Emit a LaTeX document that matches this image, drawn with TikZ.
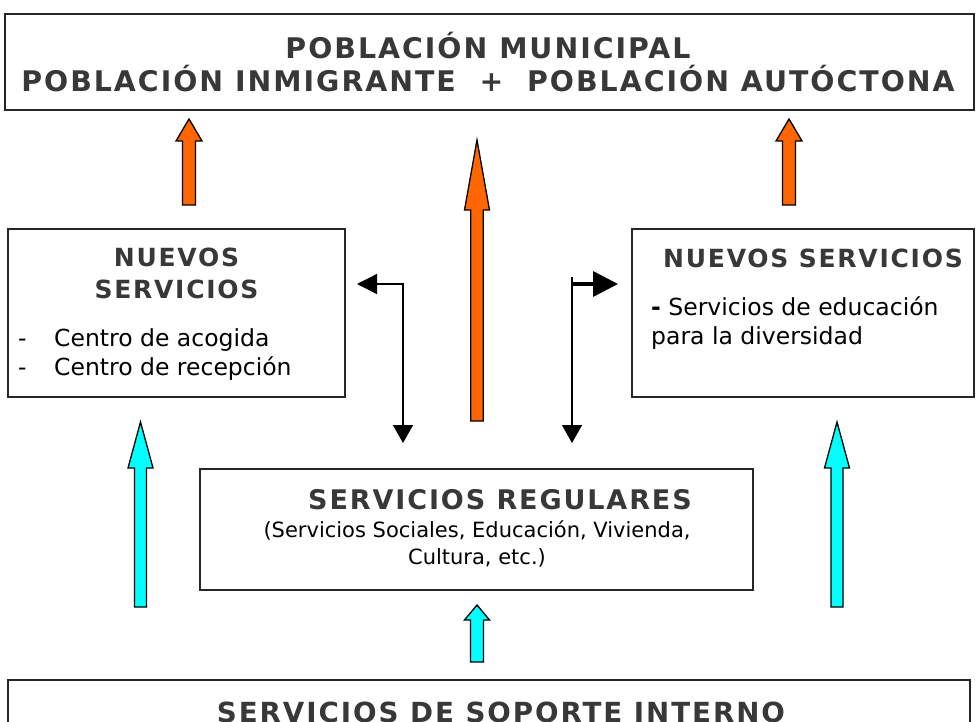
\documentclass[tikz,border=0pt]{standalone}
\usepackage{fontspec}
\setmainfont{DejaVu Sans}
\newfontfamily\headfont[LetterSpace=7]{DejaVu Sans}
\usetikzlibrary{calc, arrows.meta}
\definecolor{arrorange}{HTML}{FF6600}
\definecolor{arrcyan}{HTML}{00FFFF}
\definecolor{headgray}{HTML}{383838}
% block arrow pointing up: colour, tail, tip, half shaft, half head, head length
\newcommand{\blockarrow}[6]{%
  \filldraw[blockline, fill=#1] ($(#2)+(-#4,0)$) -- ($(#3)+(-#4,#6)$) -- ($(#3)+(-#5,#6)$)
    -- (#3) -- ($(#3)+(#5,#6)$) -- ($(#3)+(#4,#6)$) -- ($(#2)+(#4,0)$) -- cycle;}

\begin{document}
\begin{tikzpicture}[x=1pt, y=-1pt,
    box/.style={draw=black!85, line width=1.6pt, inner sep=0pt, outer sep=0pt},
    headtxt/.style={font=\headfont\bfseries\fontsize{25}{32}\selectfont, text=headgray, align=center, inner sep=0pt},
    bodytxt/.style={font=\fontsize{23.5}{29}\selectfont, align=left, inner sep=0pt},
    blockline/.style={draw=black, line width=1.3pt, line join=miter},
    thinarr/.style={line width=1.4pt, -{Triangle[length=18pt, width=20pt]}}]
    \useasboundingbox (0,0) rectangle (979,722);
    \clip (0,0) rectangle (979,722);

    % Municipal population
    \node[box, minimum width=969, minimum height=96] (pob) at (489.5,62) {};
    \node[headtxt, font=\headfont\bfseries\fontsize{28.4}{33}\selectfont] (pobtxt) at (488,62)
        {POBLACIÓN MUNICIPAL\\POBLACIÓN INMIGRANTE \ + \ POBLACIÓN AUTÓCTONA};

    % New services (left and right)
    \node[box, minimum width=337, minimum height=168] (nsA) at (176.5,313) {};
    \node[headtxt] (nsAhead) at (176.5,273) {NUEVOS\\SERVICIOS};
    \node[bodytxt, anchor=west] (nsAbody) at (18,355)
        {\makebox[36pt][l]{-}Centro de acogida\\\makebox[36pt][l]{-}Centro de recepción};

    \node[box, minimum width=342, minimum height=168] (nsB) at (803,313) {};
    \node[headtxt] (nsBhead) at (813,258) {NUEVOS SERVICIOS};
    \node[bodytxt, anchor=west] (nsBbody) at (651,323)
        {\textbf{-} Servicios de educación\\para la diversidad};

    % Regular services
    \node[box, minimum width=553, minimum height=121] (reg) at (476.5,529.5) {};
    \node[headtxt, font=\headfont\bfseries\fontsize{27}{32}\selectfont] (reghead) at (500,500) {SERVICIOS REGULARES};
    \node[bodytxt, align=center, font=\fontsize{21}{27}\selectfont] (regbody) at (477,544)
        {(Servicios Sociales, Educación, Vivienda,\\Cultura, etc.)};

    % Internal support services
    \node[box, minimum width=962, minimum height=100] (sop) at (489,730) {};
    \node[headtxt, font=\headfont\bfseries\fontsize{27.7}{32}\selectfont] (sophead) at (501,712) {SERVICIOS DE SOPORTE INTERNO};

    % Block arrows
    \coordinate (oAtail) at (189,205); \coordinate (oAtip) at (189,119);
    \coordinate (oBtail) at (789,205); \coordinate (oBtip) at (789,119);
    \coordinate (oCtail) at (477,421); \coordinate (oCtip) at (477,140);
    \coordinate (cAtail) at (140.5,607); \coordinate (cAtip) at (140.5,422);
    \coordinate (cBtail) at (837,607); \coordinate (cBtip) at (837,422);
    \coordinate (cCtail) at (477,662); \coordinate (cCtip) at (477,605);
    \blockarrow{arrorange}{oAtail}{oAtip}{6.5}{13}{22}
    \blockarrow{arrorange}{oBtail}{oBtip}{6.5}{13}{22}
    \blockarrow{arrorange}{oCtail}{oCtip}{6.3}{12.5}{70}
    \blockarrow{arrcyan}{cAtail}{cAtip}{6}{12.5}{46}
    \blockarrow{arrcyan}{cBtail}{cBtip}{6}{12.5}{46}
    \blockarrow{arrcyan}{cCtail}{cCtip}{6.5}{12.5}{15}

    % Links between new and regular services
    \coordinate (regtop) at ($(reg.north)+(0,-26)$);
    \coordinate (linkA) at ($(nsA.north east)+(58,55)$);
    \coordinate (linkB) at ($(nsB.north west)+(-60,48)$);
    \draw[thinarr, {Triangle[length=20pt, width=20pt]}-{Triangle[length=18pt, width=20pt]}]
        ($(nsA.north east)+(12,55)$) -- (linkA) -- (linkA |- regtop);
    \draw[thinarr] (linkB) -- (linkB |- regtop);
    \draw[line width=3.5pt, -{Triangle[length=25pt, width=25pt]}]
        ($(linkB)+(-1,7)$) -- ($(nsB.north west)+(-14,55)$);
\end{tikzpicture}
\end{document}
